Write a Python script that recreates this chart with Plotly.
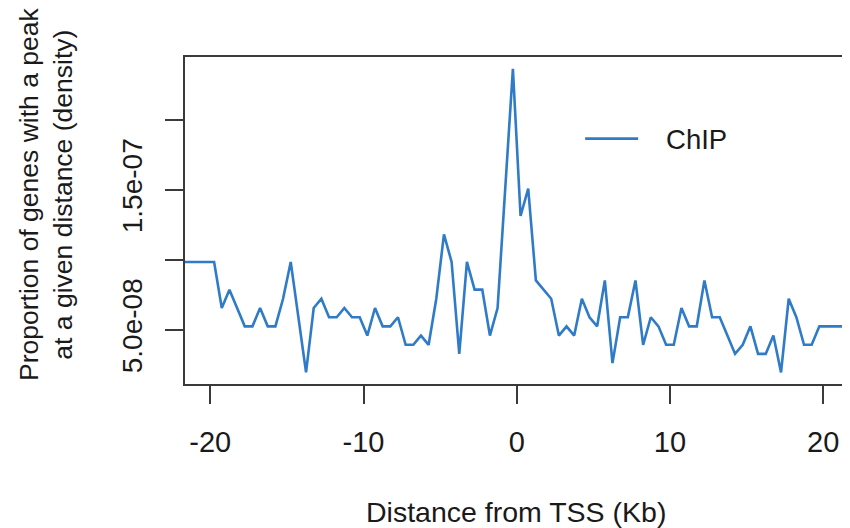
import plotly.graph_objects as go

# Distance from TSS (Kb), bin centres
distance_kb = [
    -21.75, -21.25, -20.75, -20.25, -19.75, -19.25, -18.75, -18.25, -17.75, -17.25,
    -16.75, -16.25, -15.75, -15.25, -14.75, -14.25, -13.75, -13.25, -12.75, -12.25,
    -11.75, -11.25, -10.75, -10.25, -9.75, -9.25, -8.75, -8.25, -7.75, -7.25,
    -6.75, -6.25, -5.75, -5.25, -4.75, -4.25, -3.75, -3.25, -2.75, -2.25,
    -1.75, -1.25, -0.75, -0.25, 0.25, 0.75, 1.25, 1.75, 2.25, 2.75,
    3.25, 3.75, 4.25, 4.75, 5.25, 5.75, 6.25, 6.75, 7.25, 7.75,
    8.25, 8.75, 9.25, 9.75, 10.25, 10.75, 11.25, 11.75, 12.25, 12.75,
    13.25, 13.75, 14.25, 14.75, 15.25, 15.75, 16.25, 16.75, 17.25, 17.75,
    18.25, 18.75, 19.25, 19.75, 20.25, 20.75, 21.25, 21.75,
]

# ChIP peak density
chip_density = [
    9.86e-08, 9.86e-08, 9.86e-08, 9.86e-08, 9.86e-08, 6.57e-08, 7.88e-08, 6.57e-08, 5.26e-08, 5.26e-08,
    6.57e-08, 5.26e-08, 5.26e-08, 7.23e-08, 9.86e-08, 5.91e-08, 1.97e-08, 6.57e-08, 7.23e-08, 5.91e-08,
    5.91e-08, 6.57e-08, 5.91e-08, 5.91e-08, 4.60e-08, 6.57e-08, 5.26e-08, 5.26e-08, 5.91e-08, 3.94e-08,
    3.94e-08, 4.60e-08, 3.94e-08, 7.23e-08, 1.183e-07, 9.86e-08, 3.29e-08, 9.86e-08, 7.88e-08, 7.88e-08,
    4.60e-08, 6.57e-08, 1.51e-07, 2.365e-07, 1.314e-07, 1.51e-07, 8.54e-08, 7.88e-08, 7.23e-08, 4.60e-08,
    5.26e-08, 4.60e-08, 7.23e-08, 5.91e-08, 5.26e-08, 8.54e-08, 2.63e-08, 5.91e-08, 5.91e-08, 8.54e-08,
    3.94e-08, 5.91e-08, 5.26e-08, 3.94e-08, 3.94e-08, 6.57e-08, 5.26e-08, 5.26e-08, 8.54e-08, 5.91e-08,
    5.91e-08, 4.60e-08, 3.29e-08, 3.94e-08, 5.26e-08, 3.29e-08, 3.29e-08, 4.60e-08, 1.97e-08, 7.23e-08,
    5.91e-08, 3.94e-08, 3.94e-08, 5.26e-08, 5.26e-08, 5.26e-08, 5.26e-08, 5.26e-08,
]

x_tickvals = [-20, -10, 0, 10, 20]
x_ticktext = ["-20", "-10", "0", "10", "20"]
y_tickvals = [5e-08, 1e-07, 1.5e-07, 2e-07]
y_ticktext = ["5.0e-08", "", "1.5e-07", ""]

FONT = "Liberation Sans, Arial, Helvetica, sans-serif"
AXC = "#3a3a3a"

fig = go.Figure()
fig.add_trace(go.Scatter(
    x=distance_kb, y=chip_density, mode="lines", name="\u00a0\u00a0\u00a0ChIP",
    line=dict(color="#2F7BC8", width=2.6),
))

# page has an 8px body margin, so the figure is 842x520 placed at (8, 8)
fig.update_layout(
    width=842, height=520,
    margin=dict(l=177, r=2, t=49, b=144, autoexpand=False),
    paper_bgcolor="white", plot_bgcolor="white",
    font=dict(family=FONT, size=27, color="#1a1a1a"),
    showlegend=True,
    legend=dict(
        x=0.596, y=0.75, xanchor="left", yanchor="middle",
        bgcolor="rgba(0,0,0,0)", borderwidth=0,
        font=dict(size=27.5), itemwidth=53,
    ),
)

fig.update_xaxes(
    range=[-21.65, 21.62], showgrid=False, zeroline=False, automargin=False,
    showline=True, linecolor=AXC, linewidth=1.5, mirror=True,
    ticks="outside", ticklen=18, tickwidth=1.5, tickcolor=AXC,
    tickvals=x_tickvals, ticktext=x_ticktext,
    ticklabelstandoff=13,
    tickfont=dict(size=29),
)
fig.update_yaxes(
    range=[1.14e-08, 2.45e-07], showgrid=False, zeroline=False, automargin=False,
    showline=True, linecolor=AXC, linewidth=1.5, mirror=True,
    ticks="outside", ticklen=18, tickwidth=1.5, tickcolor=AXC,
    tickvals=y_tickvals, ticktext=y_ticktext, tickangle=-90,
    ticklabelstandoff=12,
    tickfont=dict(size=28),
)

fig.add_annotation(
    text="Distance from TSS (Kb)", xref="paper", yref="paper",
    x=(516 - 185) / 663, y=-(512 - 384) / 327, xanchor="center", yanchor="middle",
    showarrow=False, font=dict(size=28.5),
)
fig.add_annotation(
    text="Proportion of genes with a peak<br>at a given distance (density)",
    xref="paper", yref="paper",
    x=-(185 - 46) / 663, y=(384 - 195) / 327, xanchor="center", yanchor="middle",
    textangle=-90, showarrow=False, font=dict(size=26.5),
)

fig.write_html("out.html")
